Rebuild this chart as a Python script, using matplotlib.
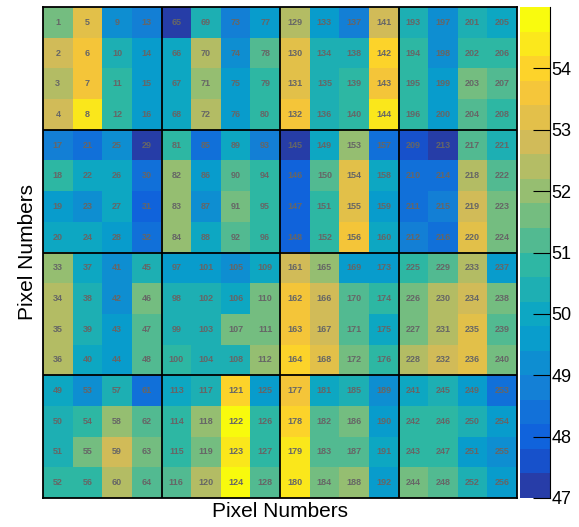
import numpy as np
import matplotlib
matplotlib.use("Agg")
import matplotlib.pyplot as plt
from matplotlib.colors import LinearSegmentedColormap, ListedColormap, BoundaryNorm

plt.rcParams['font.family'] = ['Liberation Sans', 'DejaVu Sans']

# gain per pixel, display rows top -> bottom, columns left -> right
gain = [
    [51.6, 53.2, 49.2, 48.8, 47.2, 50.4, 48.8, 49.6, 52.4, 49.6, 48.8, 52.8, 50.4, 49.2, 50.4, 50.0],
    [52.8, 53.6, 50.4, 49.6, 50.0, 52.4, 49.2, 51.2, 53.2, 50.4, 50.4, 54.0, 50.8, 49.2, 50.8, 50.8],
    [52.4, 53.6, 50.8, 49.6, 50.0, 52.0, 49.6, 50.8, 53.2, 50.4, 50.8, 53.6, 50.8, 49.6, 51.6, 51.2],
    [52.8, 54.4, 50.8, 49.6, 50.0, 52.4, 49.6, 50.8, 53.6, 50.4, 50.8, 54.4, 50.8, 49.6, 51.2, 50.8],
    [48.8, 48.4, 49.2, 47.2, 50.8, 48.4, 50.0, 48.8, 47.2, 50.0, 52.0, 48.4, 47.6, 47.2, 51.2, 50.4],
    [50.8, 50.0, 50.0, 48.4, 52.0, 49.6, 51.2, 50.8, 48.0, 51.2, 53.2, 50.0, 48.4, 48.4, 52.4, 51.2],
    [49.6, 49.2, 50.0, 48.0, 52.0, 49.2, 51.6, 50.8, 48.0, 50.8, 53.2, 49.6, 48.4, 48.8, 52.8, 51.6],
    [50.0, 50.0, 49.6, 48.4, 52.0, 50.0, 51.2, 50.8, 48.0, 50.8, 53.6, 50.0, 48.8, 48.4, 53.2, 51.6],
    [52.0, 50.0, 49.2, 50.4, 49.6, 49.6, 49.2, 50.0, 52.8, 52.0, 49.6, 49.6, 50.8, 51.2, 52.4, 49.6],
    [52.4, 50.4, 49.2, 51.6, 50.4, 50.4, 50.0, 51.6, 53.6, 52.8, 51.2, 50.8, 51.6, 52.4, 52.8, 51.6],
    [52.4, 50.4, 49.6, 51.2, 50.4, 50.4, 51.6, 51.6, 53.6, 52.8, 51.2, 50.0, 51.6, 52.4, 53.2, 51.2],
    [52.4, 50.0, 49.6, 51.2, 50.8, 50.4, 50.4, 52.0, 54.0, 53.2, 51.6, 50.8, 52.4, 52.8, 53.2, 51.6],
    [50.0, 49.2, 50.4, 48.4, 50.0, 50.4, 54.0, 49.6, 53.6, 50.0, 50.4, 49.2, 50.0, 50.4, 49.6, 48.4],
    [50.4, 50.8, 52.0, 51.2, 50.8, 52.0, 54.8, 50.8, 54.0, 51.2, 51.6, 49.6, 50.8, 50.8, 50.4, 49.6],
    [50.4, 51.6, 52.8, 51.6, 50.8, 51.6, 54.4, 50.8, 54.4, 51.2, 51.2, 50.0, 50.8, 50.8, 49.6, 49.2],
    [50.8, 50.8, 52.4, 51.2, 51.2, 52.4, 54.8, 51.2, 54.4, 51.6, 52.0, 49.6, 51.6, 51.2, 50.4, 49.6],
]
zmin, zmax, ncont = 47, 55, 20
cbar_ticks = [47, 48, 49, 50, 51, 52, 53, 54]

# ROOT kBird palette
stops = [0.0, 0.125, 0.25, 0.375, 0.5, 0.625, 0.75, 0.875, 1.0]
red = [0.2082, 0.0592, 0.0780, 0.0232, 0.1802, 0.5301, 0.8186, 0.9956, 0.9764]
green = [0.1664, 0.3599, 0.5041, 0.6419, 0.7178, 0.7492, 0.7328, 0.7862, 0.9832]
blue = [0.5293, 0.8684, 0.8385, 0.7914, 0.6425, 0.4662, 0.3499, 0.1968, 0.0539]
bird = LinearSegmentedColormap.from_list(
    "bird", list(zip(stops, zip(red, green, blue))), N=255)
# ROOT picks color index int((i+0.99)*ncolors/ndiv) for contour i
cols = [bird(int((i + 0.99) * 255 / ncont) / 254) for i in range(ncont)]
cmap = ListedColormap(cols)
norm = BoundaryNorm(np.linspace(zmin, zmax, ncont + 1), ncont)

W, H = 579, 527
fig = plt.figure(figsize=(W / 100, H / 100), dpi=100)
ax = fig.add_axes([43 / W, 1 - 498 / H, 474 / W, 491 / H])
cax = fig.add_axes([520 / W, 1 - 498 / H, 30 / W, 491 / H])

im = ax.imshow(np.array(gain), cmap=cmap, norm=norm, aspect='auto',
               extent=(0, 16, 16, 0), interpolation='nearest')

# pixel numbering: 4x4 blocks, column-major inside each block
for r in range(16):
    for c in range(16):
        pix = (c // 4) * 64 + (r // 4) * 16 + (c % 4) * 4 + (r % 4) + 1
        ax.text(c + 0.5, r + 0.5, str(pix), ha='center', va='center',
                fontsize=6.5, fontweight='bold', color='#666666')

for k in (4, 8, 12):
    ax.axvline(k, color='k', lw=1.3)
    ax.axhline(k, color='k', lw=1.3)
for s in ax.spines.values():
    s.set_linewidth(1.3)
ax.set_xticks([])
ax.set_yticks([])
ax.set_xlabel("Pixel Numbers", fontsize=15, labelpad=3)
ax.set_ylabel("Pixel Numbers", fontsize=15, labelpad=4)

cb = fig.colorbar(im, cax=cax, ticks=cbar_ticks)
cb.outline.set_visible(False)
cax.spines['right'].set_visible(True)
cax.spines['right'].set_linewidth(0.8)
cax.tick_params(direction='in', length=12, width=0.8, labelsize=13, pad=1)
cax.minorticks_off()

fig.savefig("out.png", dpi=100)
